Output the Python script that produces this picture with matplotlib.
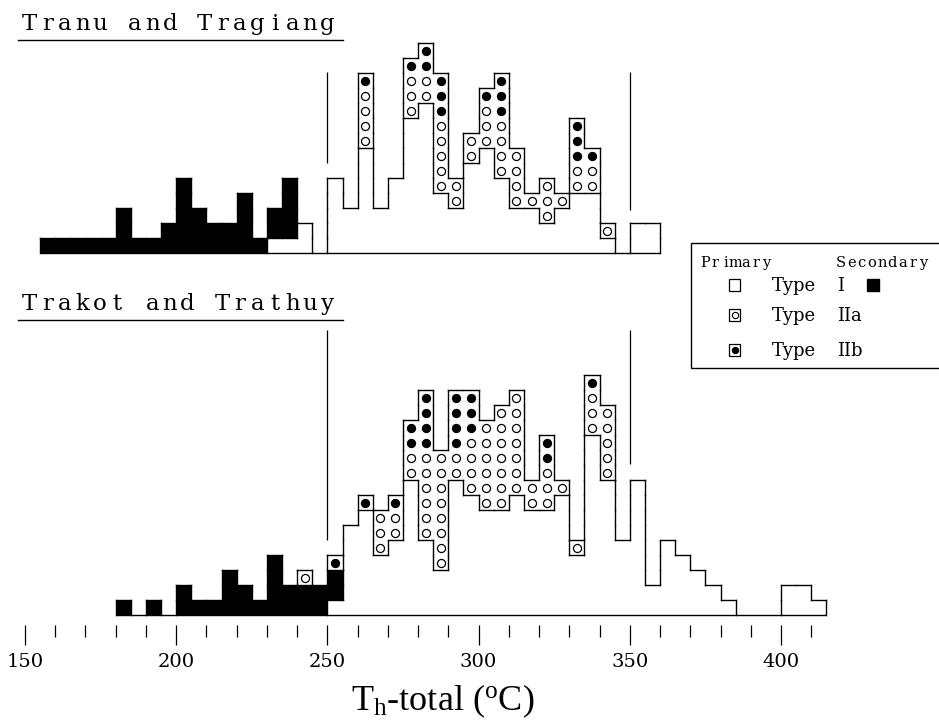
import numpy as np
import matplotlib
import matplotlib.pyplot as plt
from matplotlib.collections import LineCollection
from matplotlib.patches import Rectangle

plt.rcParams['font.family'] = ['DejaVu Serif']
plt.rcParams['mathtext.fontset'] = 'custom'
plt.rcParams['mathtext.rm'] = 'Liberation Serif'
plt.rcParams['mathtext.it'] = 'Liberation Serif:italic'

BIN = 5  # bin width, deg C

# Tranu and Tragiang: left bin edges and counts per bin
top_left = np.arange(155, 360, BIN)
top_I    = [0, 0, 0, 0, 0, 0, 0, 0, 0, 0, 0, 0, 0, 0, 0, 1, 1, 2, 0, 5, 3,
            7, 3, 5, 9, 10, 4, 3, 6, 7, 5, 3, 3, 2, 3, 4, 4, 1, 0, 2, 2]
top_sec  = [1, 1, 1, 1, 1, 3, 1, 1, 2, 5, 3, 2, 2, 4, 1, 2, 4, 0, 0, 0, 0,
            0, 0, 0, 0, 0, 0, 0, 0, 0, 0, 0, 0, 0, 0, 0, 0, 0, 0, 0, 0]
top_IIa  = [0, 0, 0, 0, 0, 0, 0, 0, 0, 0, 0, 0, 0, 0, 0, 0, 0, 0, 0, 0, 0,
            4, 0, 0, 3, 2, 5, 2, 2, 3, 4, 4, 1, 3, 1, 2, 2, 1, 0, 0, 0]
top_IIb  = [0, 0, 0, 0, 0, 0, 0, 0, 0, 0, 0, 0, 0, 0, 0, 0, 0, 0, 0, 0, 0,
            1, 0, 0, 1, 2, 3, 0, 0, 1, 3, 0, 0, 0, 0, 3, 1, 0, 0, 0, 0]

# Trakot and Trathuy
bot_left = np.arange(180, 415, BIN)
bot_I    = [0, 0, 0, 0, 0, 0, 0, 0, 0, 0, 0, 0, 0, 0, 1, 6, 7, 4, 5, 9, 5, 3, 9, 8,
            7, 7, 8, 7, 7, 8, 4, 12, 9, 5, 9, 2, 5, 4, 3, 2, 1, 0, 0, 0, 2, 2, 1]
bot_sec  = [1, 0, 1, 0, 2, 1, 1, 3, 2, 1, 4, 2, 2, 2, 2, 0, 0, 0, 0, 0, 0, 0, 0, 0,
            0, 0, 0, 0, 0, 0, 0, 0, 0, 0, 0, 0, 0, 0, 0, 0, 0, 0, 0, 0, 0, 0, 0]
bot_IIa  = [0, 0, 0, 0, 0, 0, 0, 0, 0, 0, 0, 0, 1, 0, 0, 0, 0, 3, 2, 2, 6, 8, 2, 4,
            6, 7, 7, 2, 3, 1, 1, 3, 5, 0, 0, 0, 0, 0, 0, 0, 0, 0, 0, 0, 0, 0, 0]
bot_IIb  = [0, 0, 0, 0, 0, 0, 0, 0, 0, 0, 0, 0, 0, 0, 1, 0, 1, 0, 1, 2, 4, 0, 4, 3,
            0, 0, 0, 0, 2, 0, 0, 1, 0, 0, 0, 0, 0, 0, 0, 0, 0, 0, 0, 0, 0, 0, 0]

ticks_major = [150, 200, 250, 300, 350, 400]
ticks_minor = [160, 170, 180, 190, 210, 220, 230, 240, 260, 270, 280, 290,
               310, 320, 330, 340, 360, 370, 380, 390, 410]

W, H = 939, 724
fig = plt.figure(figsize=(W / 100, H / 100), dpi=100)
ax = fig.add_axes([0, 99 / H, 1, 625 / H])
ax.set_facecolor('none')
ax.set_xlim(141.73, 452.25)
ax.set_ylim(-10 / 15, 615 / 15)
TOP_BASE = 362 / 15


def draw_panel(left, n_I, n_sec, n_a, n_b, base):
    # stack per bin: type I (1), secondary (2), type II with circles (3)
    cols = [[1] * i + [2] * s + [3] * (a + b)
            for i, s, a, b in zip(n_I, n_sec, n_a, n_b)]
    n = len(cols)

    def cls(i, j):
        if i < 0 or i >= n or j < 0 or j >= len(cols[i]):
            return 0
        return cols[i][j]

    segs = []
    hmax = max(len(c) for c in cols)
    for i in range(n):
        x0 = left[i]
        for j in range(1, len(cols[i]) + 1):
            if cls(i, j - 1) != cls(i, j):
                segs.append([(x0, base + j), (x0 + BIN, base + j)])
    for i in range(n + 1):
        x = left[0] + i * BIN
        for j in range(hmax):
            if cls(i - 1, j) != cls(i, j):
                segs.append([(x, base + j), (x, base + j + 1)])

    ax.bar(left, n_sec, width=BIN, bottom=base + np.array(n_I), align='edge',
           color='black', linewidth=0)
    ax.add_collection(LineCollection(segs, colors='black', linewidths=1.0,
                                     capstyle='projecting'))
    ax.hlines(base, left[0], left[-1] + BIN, colors='black', lw=1.0)

    xa, ya, xb, yb = [], [], [], []
    for x, i, s, a, b in zip(left, n_I, n_sec, n_a, n_b):
        for k in range(a):
            xa.append(x + BIN / 2)
            ya.append(base + i + s + k + 0.5)
        for k in range(b):
            xb.append(x + BIN / 2)
            yb.append(base + i + s + a + k + 0.5)
    ax.plot(xa, ya, 'o', ms=5.8, mfc='white', mec='black', mew=0.9, ls='none')
    ax.plot(xb, yb, 'o', ms=5.8, mfc='black', mec='black', mew=0.9, ls='none')


draw_panel(top_left, top_I, top_sec, top_IIa, top_IIb, TOP_BASE)
draw_panel(bot_left, bot_I, bot_sec, bot_IIa, bot_IIb, 0)

# 250 and 350 deg C marker lines
ax.vlines([250, 350], TOP_BASE + np.array([6.0, 2.9]), TOP_BASE + 12.07,
          colors='black', lw=0.9)
ax.vlines([250, 350], [5.0, 10.1], 19.0, colors='black', lw=0.9)

ax.set_xticks(ticks_major)
ax.set_xticks(ticks_minor, minor=True)
ax.tick_params(axis='x', which='major', length=14.4, width=0.9, pad=5.5,
               labelsize=14)
ax.tick_params(axis='x', which='minor', length=8.6, width=0.9)
ax.set_yticks([])
for sp in ax.spines.values():
    sp.set_visible(False)

# overlay in pixel coordinates for titles and legend
ov = fig.add_axes([0, 0, 1, 1])
ov.set_xlim(0, W)
ov.set_ylim(H, 0)
ov.axis('off')
ov.set_facecolor('none')


def spaced(x0, y, s, pitch, size):
    for k, ch in enumerate(s):
        ov.text(x0 + pitch * (k + 0.5), y, ch, ha='center', va='baseline',
                fontsize=size)


spaced(21, 30, 'Tranu and Tragiang', 17.5, 16.5)
ov.plot([18, 343], [40, 40], color='black', lw=1.0)
spaced(21, 310, 'Trakot and Trathuy', 17.5, 16.5)
ov.plot([18, 343], [320, 320], color='black', lw=1.0)

# legend
ov.add_patch(Rectangle((691, 243), 260, 125, fill=False, lw=1.0))
spaced(700, 267, 'Primary', 10.2, 10.5)
spaced(836, 267, 'Secondary', 10.2, 10.5)
rows = [(291, 'I'), (321, 'IIa'), (356, 'IIb')]
for k, (yb, lab) in enumerate(rows):
    ov.add_patch(Rectangle((729, yb - 12), 11, 12, fill=False, lw=0.9))
    ov.text(772, yb, 'Type', fontsize=13, va='baseline')
    ov.text(837, yb, lab, fontsize=13, va='baseline')
ov.plot(734.5, 315, 'o', ms=4.5, mfc='white', mec='black', mew=0.8)
ov.plot(734.5, 350, 'o', ms=4.5, mfc='black', mec='black', mew=0.8)
ov.add_patch(Rectangle((867, 279), 12, 12, color='black'))

ov.text(443, 710, r'T$_{\mathrm{h}}$-total ($^{\mathrm{o}}$C)', ha='center',
        va='baseline', fontsize=26, family='Liberation Serif')

fig.savefig('out.png', dpi=100)
